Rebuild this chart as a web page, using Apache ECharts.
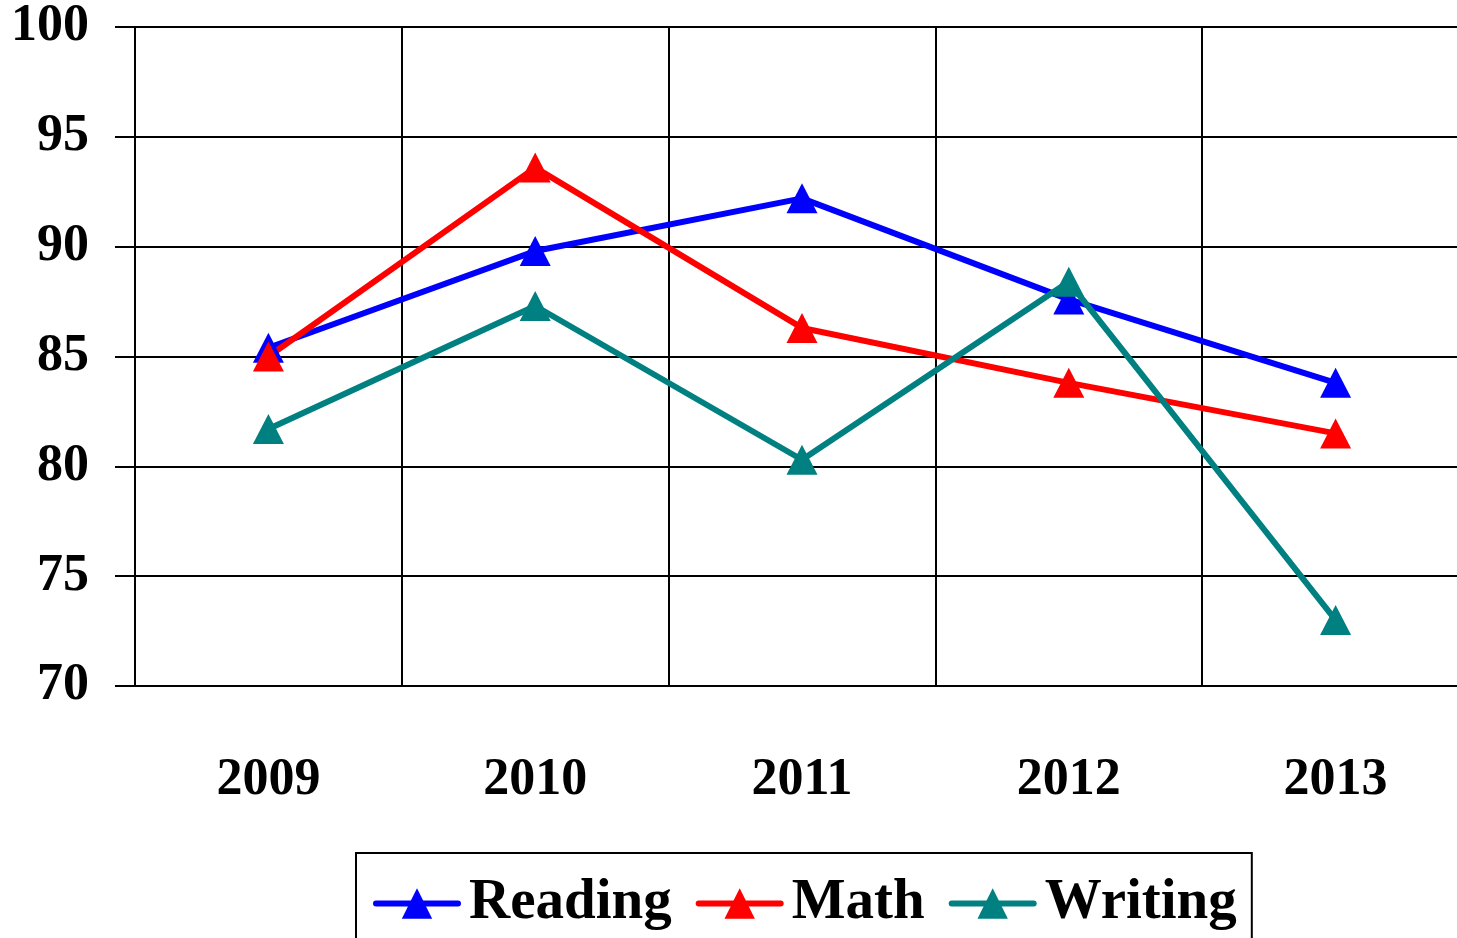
<!DOCTYPE html>
<html lang="en">
<head>
    <meta charset="UTF-8">
    <title>Scores</title>
    <script src="https://cdn.jsdelivr.net/npm/echarts@6/dist/echarts.min.js"></script>
    <style>
        html, body { margin: 0; padding: 0; background: #fff; overflow: hidden; }
        /* plot runs a bit past the right edge of the window, like the original */
        #chart { width: 1469px; height: 938px; }
    </style>
</head>
<body>
<div id="chart"></div>
<script>
    var years = ['2009', '2010', '2011', '2012', '2013'];
    var reading = [85.4, 89.8, 92.2, 87.6, 83.8];
    var math = [85.0, 93.6, 86.3, 83.8, 81.5];
    var writing = [81.7, 87.3, 80.3, 88.4, 73.0];

    var font = 'Liberation Serif';

    function makeSeries(name, data, color) {
        return {
            name: name,
            type: 'line',
            data: data,
            symbol: 'triangle',
            symbolSize: [31, 30],
            lineStyle: { width: 6, color: color },
            itemStyle: { color: color },
            emphasis: { disabled: true }
        };
    }

    var myChart = echarts.init(document.getElementById('chart'));
    var option = {
        animation: false,
        grid: { left: 135, top: 27, bottom: 252, right: 0, containLabel: false },
        legend: {
            left: 356,
            top: 853,
            padding: [22, 15, 40, 17],
            borderColor: '#000',
            borderWidth: 2,
            itemGap: 24,
            itemWidth: 82,
            itemHeight: 38,
            lineStyle: { width: 6, cap: 'round' },
            textStyle: {
                fontFamily: font,
                fontWeight: 'bold',
                fontSize: 57,
                color: '#000',
                padding: [0, 0, 0, 6]
            },
            data: ['Reading', 'Math', 'Writing']
        },
        xAxis: {
            type: 'category',
            data: years,
            boundaryGap: true,
            axisLine: { lineStyle: { color: '#000', width: 2 } },
            axisTick: { show: false },
            axisLabel: {
                margin: 69,
                fontFamily: font,
                fontWeight: 'bold',
                fontSize: 52,
                color: '#000'
            },
            splitLine: { show: true, lineStyle: { color: '#000', width: 2 } }
        },
        yAxis: {
            type: 'value',
            min: 70,
            max: 100,
            interval: 5,
            axisLine: { show: true, lineStyle: { color: '#000', width: 2 } },
            axisTick: { show: true, length: 20, lineStyle: { color: '#000', width: 2 } },
            axisLabel: {
                margin: 46,
                padding: [6, 0, 0, 0],
                fontFamily: font,
                fontWeight: 'bold',
                fontSize: 52,
                color: '#000'
            },
            splitLine: { show: true, lineStyle: { color: '#000', width: 2 } }
        },
        series: [
            makeSeries('Reading', reading, '#0000ff'),
            makeSeries('Math', math, '#ff0000'),
            makeSeries('Writing', writing, '#008080')
        ]
    };
    myChart.setOption(option);
</script>
</body>
</html>
